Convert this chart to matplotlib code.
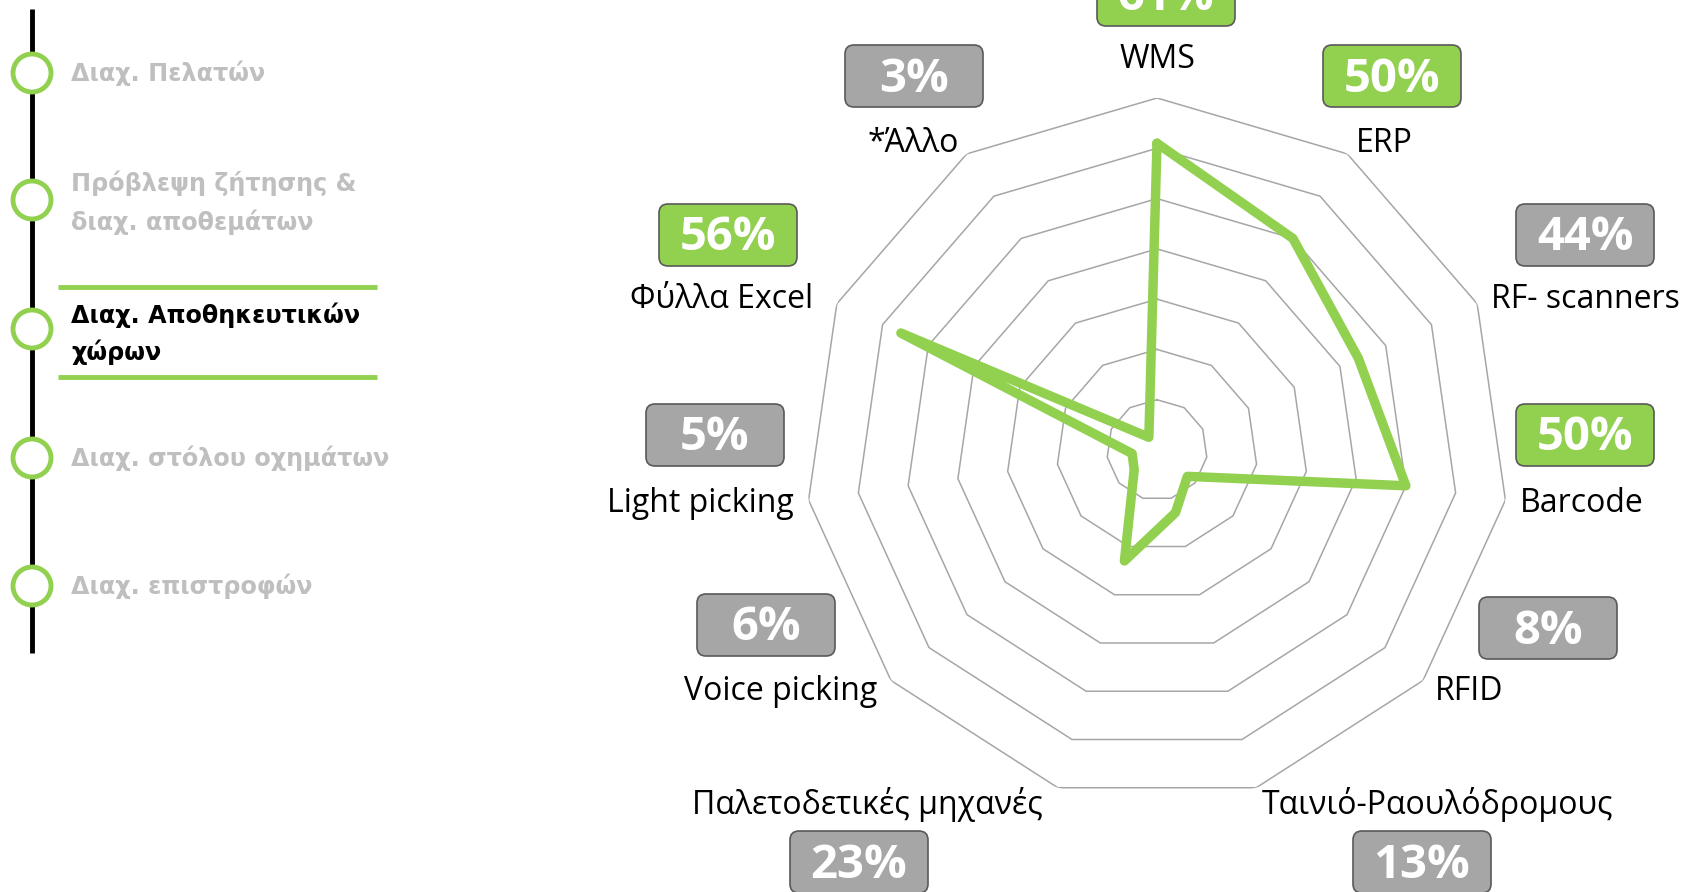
import numpy as np
import matplotlib
matplotlib.use("Agg")
import matplotlib.pyplot as plt
from matplotlib.patches import FancyBboxPatch, Circle

# radar data (share of companies using each tool, %)
categories = ["WMS", "ERP", "RF- scanners", "Barcode", "RFID",
              "Ταινιό-Ραουλόδρομους", "Παλετοδετικές μηχανές",
              "Voice picking", "Light picking", "Φύλλα Excel", "*Άλλο"]
values = [61, 50, 44, 50, 8, 13, 23, 6, 5, 56, 3]
ring_levels = [10, 20, 30, 40, 50, 60, 70]

# side menu
steps = [["Διαχ. Πελατών"],
         ["Πρόβλεψη ζήτησης &", "διαχ. αποθεμάτων"],
         ["Διαχ. Αποθηκευτικών", "χώρων"],
         ["Διαχ. στόλου οχημάτων"],
         ["Διαχ. επιστροφών"]]
active_step = 2

GREEN = "#92D050"
GREY = "#A6A6A6"
W, H = 1685, 892

fig = plt.figure(figsize=(W / 100, H / 100), dpi=100)
fig.patch.set_facecolor("white")

# overlay in pixel coordinates for labels / boxes / menu
ov = fig.add_axes([0, 0, 1, 1])
ov.set_xlim(0, W)
ov.set_ylim(H, 0)
ov.axis("off")

# ---- radar ----
cx, cy, R = 1157, 450, 352
ax = fig.add_axes([(cx - R) / W, 1 - (cy + R) / H, 2 * R / W, 2 * R / H],
                  projection="polar")
ax.set_theta_offset(np.pi / 2)
ax.set_theta_direction(-1)
ax.set_ylim(0, 70)
ax.grid(False)
ax.set_xticks([])
ax.set_yticks([])
ax.spines["polar"].set_visible(False)
ax.patch.set_alpha(0)

n = len(categories)
theta = np.arange(n) * 2 * np.pi / n
theta_c = np.append(theta, theta[0])
for lvl in ring_levels:
    ax.plot(theta_c, [lvl] * (n + 1), color=GREY, lw=1.1, zorder=1)
ax.plot(theta_c, values + values[:1], color=GREEN, lw=6.8,
        solid_joinstyle="round", solid_capstyle="round", zorder=3)

# label and value-box centres (pixels)
label_pos = [(1157, 60), (1384, 144), (1585, 300), (1582, 503), (1469, 691),
             (1438, 804), (867, 804), (781, 691), (700, 503), (722, 299),
             (913, 144)]
box_pos = [(1166, -5), (1392, 76), (1585, 235), (1585, 435), (1548, 628),
           (1422, 862), (859, 862), (766, 625), (715, 435), (728, 235),
           (914, 76)]
bw, bh = 138, 62

for cat, val, (lx, ly), (bx, by) in zip(categories, values, label_pos, box_pos):
    ov.text(lx, ly, cat, ha="center", va="center", fontsize=23,
            family=["Open Sans", "DejaVu Sans"], color="black")
    fc = GREEN if val >= 50 else GREY
    ov.add_patch(FancyBboxPatch((bx - bw / 2, by - bh / 2), bw, bh,
                                boxstyle="round,pad=0,rounding_size=9",
                                fc=fc, ec="#595959", lw=1.2))
    ov.text(bx, by + 3, f"{val}%", ha="center", va="center", fontsize=34,
            fontweight="bold", family=["Open Sans", "DejaVu Sans"],
            color="white")

# ---- side menu ----
ov.plot([32, 32], [9, 653], color="black", lw=3.5, solid_capstyle="butt")
step_y = [73, 200, 329, 458, 586]
for i, (lines, y) in enumerate(zip(steps, step_y)):
    ov.add_patch(Circle((32, y), 19, fc="white", ec=GREEN, lw=3.5, zorder=3))
    col = "black" if i == active_step else "#BFBFBF"
    if len(lines) == 1:
        ys = [y]
    else:
        ys = [y - 17, y + 22] if i != active_step else [y - 14, y + 23]
    for t, yy in zip(lines, ys):
        ov.text(71, yy, t, ha="left", va="center", fontsize=17.2,
                fontweight="bold", family="DejaVu Sans", color=col)
ov.plot([58, 377], [287, 287], color=GREEN, lw=3.5, solid_capstyle="butt")
ov.plot([58, 377], [377, 377], color=GREEN, lw=3.5, solid_capstyle="butt")

fig.savefig("out.png", dpi=100)
